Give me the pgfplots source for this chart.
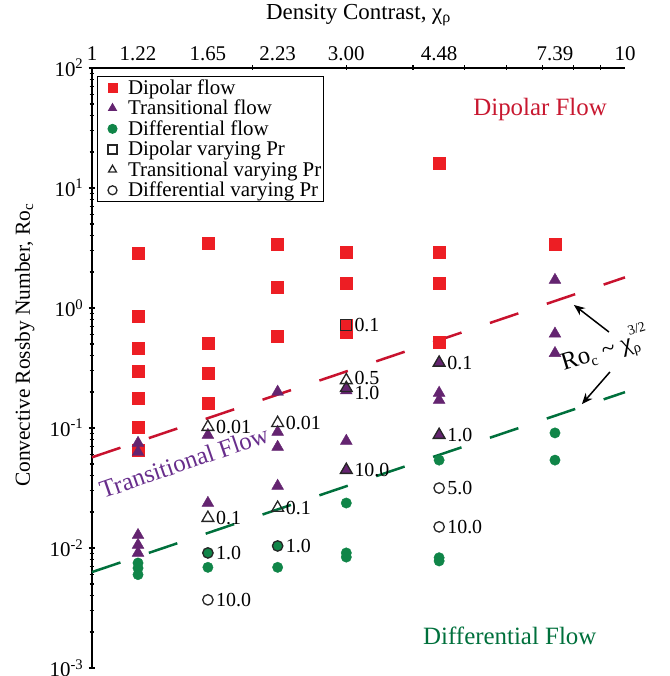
\documentclass[border=0pt]{standalone}
\usepackage{fontspec}
\setmainfont{Liberation Serif}
\usepackage{pgfplots}
\pgfplotsset{compat=1.18}
\usetikzlibrary{arrows.meta}
\definecolor{dipred}{RGB}{237,30,36}
\definecolor{transpurple}{RGB}{100,36,112}
\definecolor{diffgreen}{RGB}{16,133,72}
\definecolor{linered}{RGB}{200,18,46}
\definecolor{linegreen}{RGB}{0,112,60}
\definecolor{textred}{RGB}{200,24,48}
\definecolor{textpurple}{RGB}{104,46,140}
\definecolor{textgreen}{RGB}{0,112,60}
\begin{document}
\begin{tikzpicture}
\useasboundingbox (-92bp,-8bp) rectangle (578bp,668bp);
\begin{axis}[
  at={(0,0)}, anchor=south west,
  scale only axis, width=533bp, height=600bp,
  xmode=log, ymode=log,
  xmin=1, xmax=10, ymin=1e-3, ymax=1e2,
  axis x line*=top, axis y line*=left,
  axis line style={line width=2bp},
  clip=false,
  xtick={1,1.22,1.65,2.23,3,4.48,7.39,10},
  xticklabels={1,1.22,1.65,2.23,3.00,4.48,7.39,10},
  minor xtick={2,3,4,5,6,7,8,9},
  major x tick style={draw=none},
  ytick={1e-3,1e-2,1e-1,1,10,100},
  yticklabels={10\textsuperscript{-3},10\textsuperscript{-2},10\textsuperscript{-1},10\textsuperscript{0},10\textsuperscript{1},10\textsuperscript{2}},
  tick align=center,
  major tick length=7bp, minor tick length=5bp,
  tick style={line width=1.3bp, black},
  tick label style={font=\fontsize{21}{24}\selectfont},
  yticklabel style={inner sep=0.5bp, xshift=-4.5bp},
  xlabel={Density Contrast, χ\textsubscript{ρ}},
  ylabel={Convective Rossby Number, Ro\textsubscript{c}},
  every axis x label/.style={at={(axis description cs:0.5,1)}, yshift=53bp, anchor=center, font=\fontsize{23}{25}\selectfont},
  every axis y label/.style={at={(axis description cs:-0.126,0.538)}, rotate=90, anchor=center, font=\fontsize{21.5}{24}\selectfont},
  legend cell align=left,
  legend image code/.code={\path[draw=none, fill=none] (0bp,-5bp) rectangle (28bp,5bp); \draw[#1] plot coordinates {(13bp,0bp)};},
  legend image post style={mark size=4.5bp},
  legend style={at={(0.0094,0.9867)}, anchor=north west, draw=black, line width=1bp,
    font=\fontsize{21}{22}\selectfont, inner xsep=2bp, inner ysep=2.5bp, row sep=3.4bp,
    nodes={inner sep=0.5bp}},
]
% dashed scaling lines
\addplot[linered, line width=2.5bp, dash pattern=on 30bp off 30bp, forget plot] coordinates {(1,0.057) (10,1.80)};
\addplot[linegreen, line width=2.5bp, dash pattern=on 30bp off 30bp, forget plot] coordinates {(1,0.0063) (10,0.199)};
% Dipolar flow
\addplot[only marks, mark=square*, mark size=6bp, mark options={draw=dipred, fill=dipred}] coordinates {
(1.22,2.87)(1.22,0.857)(1.22,0.46)(1.22,0.30)(1.22,0.178)(1.22,0.102)(1.22,0.065)
(1.65,3.48)(1.65,0.51)(1.65,0.287)(1.65,0.162)
(2.23,3.41)(2.23,1.50)(2.23,0.585)
(3.00,2.93)(3.00,1.62)(3.00,0.72)(3.00,0.63)
(4.48,16.2)(4.48,2.93)(4.48,1.62)(4.48,0.52)
(7.39,3.41)};
\addlegendentry{Dipolar flow}
% Transitional flow
\addplot[only marks, mark=triangle*, mark size=6.8bp, mark options={draw=transpurple, fill=transpurple}] coordinates {
(1.22,0.075)(1.22,0.063)(1.22,0.0128)(1.22,0.0106)(1.22,0.0091)
(1.65,0.0874)(1.65,0.0237)
(2.23,0.2)(2.23,0.0927)(2.23,0.0695)(2.23,0.0329)
(3.00,0.215)(3.00,0.205)(3.00,0.078)(3.00,0.0447)
(4.48,0.35)(4.48,0.196)(4.48,0.171)(4.48,0.0875)
(7.39,1.71)(7.39,0.61)(7.39,0.42)};
\addlegendentry{Transitional flow}
% Differential flow
\addplot[only marks, mark=*, mark size=5.2bp, mark options={draw=diffgreen, fill=diffgreen}] coordinates {
(1.22,0.0075)(1.22,0.0068)(1.22,0.0060)
(1.65,0.0091)(1.65,0.0069)
(2.23,0.0104)(2.23,0.0069)
(3.00,0.0237)(3.00,0.0091)(3.00,0.0084)
(4.48,0.054)(4.48,0.0083)(4.48,0.0078)
(7.39,0.091)(7.39,0.054)};
\addlegendentry{Differential flow}
% Dipolar varying Pr
\addplot[only marks, mark=square, mark size=5.5bp, mark options={draw=black!85, line width=1.3bp}] coordinates {(3.00,0.72)};
\addlegendentry{Dipolar varying Pr}
% Transitional varying Pr
\addplot[only marks, mark=triangle, mark size=6.8bp, mark options={draw=black!85, line width=1.3bp}] coordinates {
(1.65,0.102)(1.65,0.0178)(2.23,0.110)(2.23,0.0216)(3.00,0.25)(3.00,0.215)(3.00,0.0447)(4.48,0.35)(4.48,0.0875)};
\addlegendentry{Transitional varying Pr}
% Differential varying Pr
\addplot[only marks, mark=o, mark size=5.2bp, mark options={draw=black!85, line width=1.3bp}] coordinates {
(1.65,0.0091)(1.65,0.0037)(2.23,0.0104)(4.48,0.0316)(4.48,0.015)};
\addlegendentry{Differential varying Pr\hspace{20bp}}
% Pr labels
\begin{scope}[every node/.style={anchor=west, font=\fontsize{20}{22}\selectfont, inner sep=1bp, xshift=7bp}]
\node at (axis cs:1.65,0.102) {0.01};
\node at (axis cs:1.65,0.0178) {0.1};
\node at (axis cs:1.65,0.0091) {1.0};
\node at (axis cs:1.65,0.0037) {10.0};
\node at (axis cs:2.23,0.110) {0.01};
\node at (axis cs:2.23,0.0216) {0.1};
\node at (axis cs:2.23,0.0104) {1.0};
\node at (axis cs:3.00,0.72) {0.1};
\node at (axis cs:3.00,0.26) {0.5};
\node at (axis cs:3.00,0.195) {1.0};
\node at (axis cs:3.00,0.0447) {10.0};
\node at (axis cs:4.48,0.35) {0.1};
\node at (axis cs:4.48,0.0875) {1.0};
\node at (axis cs:4.48,0.0316) {5.0};
\node at (axis cs:4.48,0.015) {10.0};
\end{scope}
% region labels
\node[textred, font=\fontsize{25}{27}\selectfont] at (axis cs:6.93,44.7) {Dipolar Flow};
\node[textgreen, font=\fontsize{25}{27}\selectfont] at (axis cs:6.08,0.00185) {Differential Flow};
\node[textpurple, font=\fontsize{25}{27}\selectfont, rotate=19] at (axis cs:1.488,0.052) {Transitional Flow};
\node[font=\fontsize{25}{27}\selectfont, rotate=17, inner sep=0pt] at (axis cs:9.17,0.447) {Ro\raisebox{-0.35ex}{\fontsize{15}{15}\selectfont c} \textasciitilde{} χ\rlap{\raisebox{-0.4ex}{\fontsize{15}{15}\selectfont ρ}}\raisebox{1.25ex}{\fontsize{14}{14}\selectfont 3/2}};
\draw[line width=1.5bp, -{Stealth[length=11bp,width=9bp]}] (axis cs:9.33,0.631) -- (axis cs:8.02,1.06);
\draw[line width=1.5bp, -{Stealth[length=11bp,width=9bp]}] (axis cs:9.37,0.293) -- (axis cs:8.30,0.158);
\end{axis}
\end{tikzpicture}
\end{document}
